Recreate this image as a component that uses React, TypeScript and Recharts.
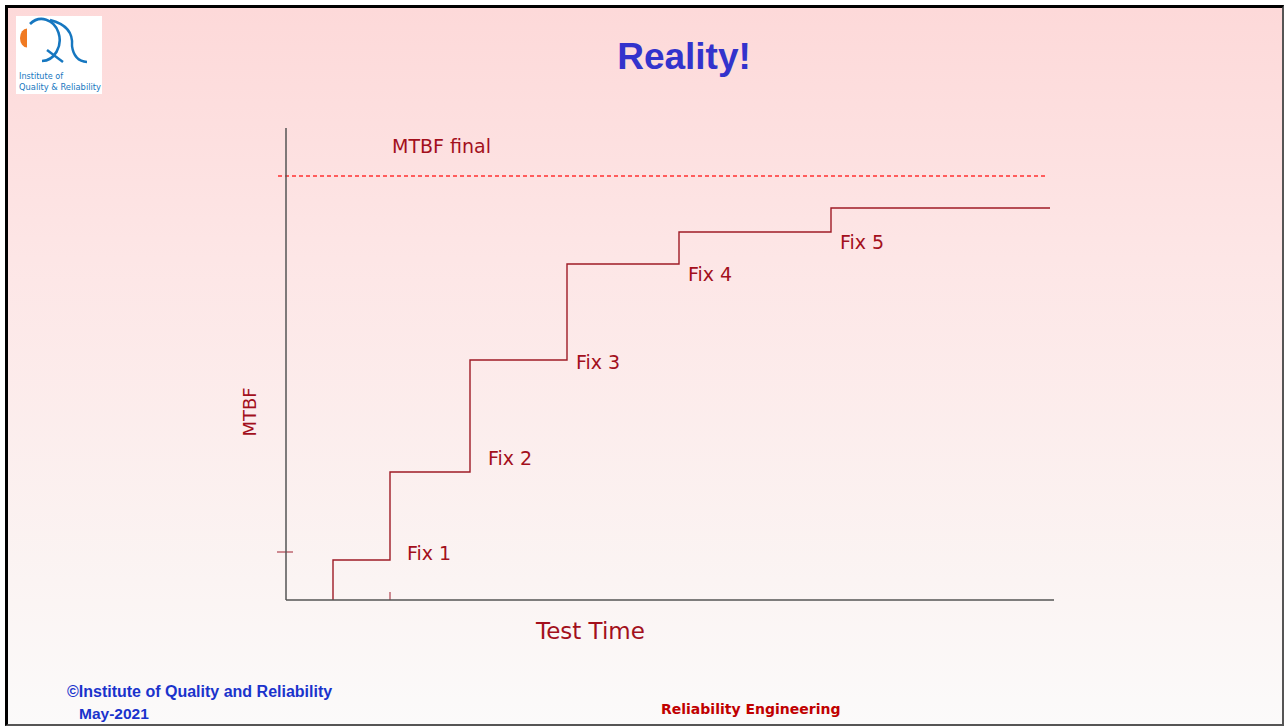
import React from 'react';
import { LineChart, Line, XAxis, YAxis, ReferenceLine, ReferenceDot } from 'recharts';

// Step data (test time vs MTBF, arbitrary units)
const testTime = [47, 47, 104, 184, 281, 393, 545, 764];
const mtbf = [0, 40, 128, 240, 336, 368, 392, 392];

const fixLabels = ['Fix 1', 'Fix 2', 'Fix 3', 'Fix 4', 'Fix 5'];
const fixLabelX = [121, 202, 290, 402, 554];
const fixLabelY = [47, 142, 238, 326, 358];

const mtbfFinal = 424;
const mtbfFinalLabel = 'MTBF final';
const mtbfFinalLabelPos = { x: 106, y: 454 };
const yTickValue = 48;
const xTickValue = 104;

const data = testTime.map((x, i) => ({ x, y: mtbf[i] }));

const RED = '#a3101c';
const LABEL_FONT = '"DejaVu Sans", Verdana, sans-serif';
const BLUE_LOGO = '#1677c0';

const textShape = (label: string) => (props: any) => (
  <text
    x={props.cx}
    y={props.cy}
    fill={RED}
    fontSize={19}
    fontFamily={LABEL_FONT}
    dominantBaseline="central"
    textAnchor="start"
  >
    {label}
  </text>
);

const Logo = () => (
  <svg width={86} height={78} style={{ position: 'absolute', left: 16, top: 16, background: '#fff' }}>
    <path d="M 11 12.5 A 7 9.5 0 0 0 11 31.5 Z" fill="#f07a22" />
    <path d="M 14 8 A 18 21 0 1 1 26 45" fill="none" stroke={BLUE_LOGO} strokeWidth={2.6} />
    <path d="M 31 34 L 47 46" fill="none" stroke={BLUE_LOGO} strokeWidth={2.4} />
    <path d="M 34 4 Q 58 10 56 30 Q 58 45 71 46" fill="none" stroke={BLUE_LOGO} strokeWidth={2.4} />
    <text x={3} y={63} fontSize={9} fill={BLUE_LOGO} fontFamily="'DejaVu Sans Condensed', sans-serif" textLength={44} lengthAdjust="spacingAndGlyphs">Institute of</text>
    <text x={3} y={74} fontSize={9} fill={BLUE_LOGO} fontFamily="'DejaVu Sans Condensed', sans-serif" textLength={82} lengthAdjust="spacingAndGlyphs">Quality &amp; Reliability</text>
  </svg>
);

export default function App() {
  return (
    <div style={{ position: 'absolute', left: 0, top: 0, width: 1284, height: 726, background: '#ffffff', overflow: 'hidden' }}>
      <div
        style={{
          position: 'absolute',
          left: 5,
          top: 5,
          width: 1279,
          height: 721,
          boxSizing: 'border-box',
          borderLeft: '3px solid #000',
          borderTop: '3px solid #000',
          borderRight: '2px solid #555',
          borderBottom: '2px solid #555',
          background: 'linear-gradient(to bottom, #fdd9d9 0%, #fde6e6 35%, #fbf4f3 80%, #fbfafa 100%)',
        }}
      />
      <Logo />
      <div
        style={{
          position: 'absolute',
          left: 484,
          width: 400,
          top: 35,
          textAlign: 'center',
          fontFamily: '"Liberation Sans", Arial, sans-serif',
          fontWeight: 'bold',
          fontSize: 37,
          lineHeight: '44px',
          color: '#3333cc',
        }}
      >
        Reality!
      </div>
      <div style={{ position: 'absolute', left: 0, top: 0 }}>
        <LineChart
          width={1284}
          height={726}
          data={data}
          margin={{ top: 128, left: 285, right: 230, bottom: 125 }}
        >
          <XAxis
            type="number"
            dataKey="x"
            domain={[0, 768]}
            height={1}
            tick={false}
            tickLine={false}
            axisLine={{ stroke: '#555', strokeWidth: 1.5 }}
            allowDataOverflow
          />
          <YAxis
            type="number"
            domain={[0, 472]}
            width={1}
            tick={false}
            tickLine={false}
            axisLine={{ stroke: '#555', strokeWidth: 1.5 }}
            allowDataOverflow
          />
          <ReferenceLine
            segment={[{ x: -8, y: mtbfFinal }, { x: 759, y: mtbfFinal }]}
            stroke="#ff3030"
            strokeWidth={1.3}
            strokeDasharray="4 3"
            ifOverflow="visible"
          />
          <ReferenceLine
            segment={[{ x: -9, y: yTickValue }, { x: 7, y: yTickValue }]}
            stroke="#a02030"
            strokeWidth={1}
            ifOverflow="visible"
          />
          <ReferenceLine
            segment={[{ x: xTickValue, y: 0 }, { x: xTickValue, y: 8 }]}
            stroke="#a02030"
            strokeWidth={1}
            ifOverflow="visible"
          />
          <Line
            type="stepAfter"
            dataKey="y"
            stroke="#9e1b26"
            strokeWidth={1.4}
            dot={false}
            activeDot={false}
            isAnimationActive={false}
          />
          <ReferenceDot
            x={mtbfFinalLabelPos.x}
            y={mtbfFinalLabelPos.y}
            r={0}
            ifOverflow="visible"
            shape={textShape(mtbfFinalLabel)}
          />
          {fixLabels.map((l, i) => (
            <ReferenceDot
              key={l}
              x={fixLabelX[i]}
              y={fixLabelY[i]}
              r={0}
              ifOverflow="visible"
              shape={textShape(l)}
            />
          ))}
        </LineChart>
      </div>
      <div
        style={{
          position: 'absolute',
          left: 536,
          top: 616,
          fontFamily: LABEL_FONT,
          fontSize: 23,
          lineHeight: '30px',
          color: RED,
          whiteSpace: 'nowrap',
        }}
      >
        Test Time
      </div>
      <div
        style={{
          position: 'absolute',
          left: 250,
          top: 412,
          transform: 'translate(-50%, -50%) rotate(-90deg)',
          fontFamily: LABEL_FONT,
          fontSize: 18,
          lineHeight: '22px',
          color: RED,
          whiteSpace: 'nowrap',
        }}
      >
        MTBF
      </div>
      <div
        style={{
          position: 'absolute',
          left: 67,
          top: 682,
          fontFamily: '"Liberation Sans", Arial, sans-serif',
          fontWeight: 'bold',
          fontSize: 16,
          lineHeight: '20px',
          color: '#1a33cc',
          whiteSpace: 'nowrap',
        }}
      >
        ©Institute of Quality and Reliability
      </div>
      <div
        style={{
          position: 'absolute',
          left: 79,
          top: 704,
          fontFamily: '"Liberation Sans", Arial, sans-serif',
          fontWeight: 'bold',
          fontSize: 15.5,
          lineHeight: '20px',
          color: '#1a33cc',
          whiteSpace: 'nowrap',
        }}
      >
        May-2021
      </div>
      <div
        style={{
          position: 'absolute',
          left: 661,
          top: 699,
          fontFamily: LABEL_FONT,
          fontWeight: 'bold',
          fontSize: 14,
          lineHeight: '20px',
          color: '#c00000',
          whiteSpace: 'nowrap',
        }}
      >
        Reliability Engineering
      </div>
    </div>
  );
}
